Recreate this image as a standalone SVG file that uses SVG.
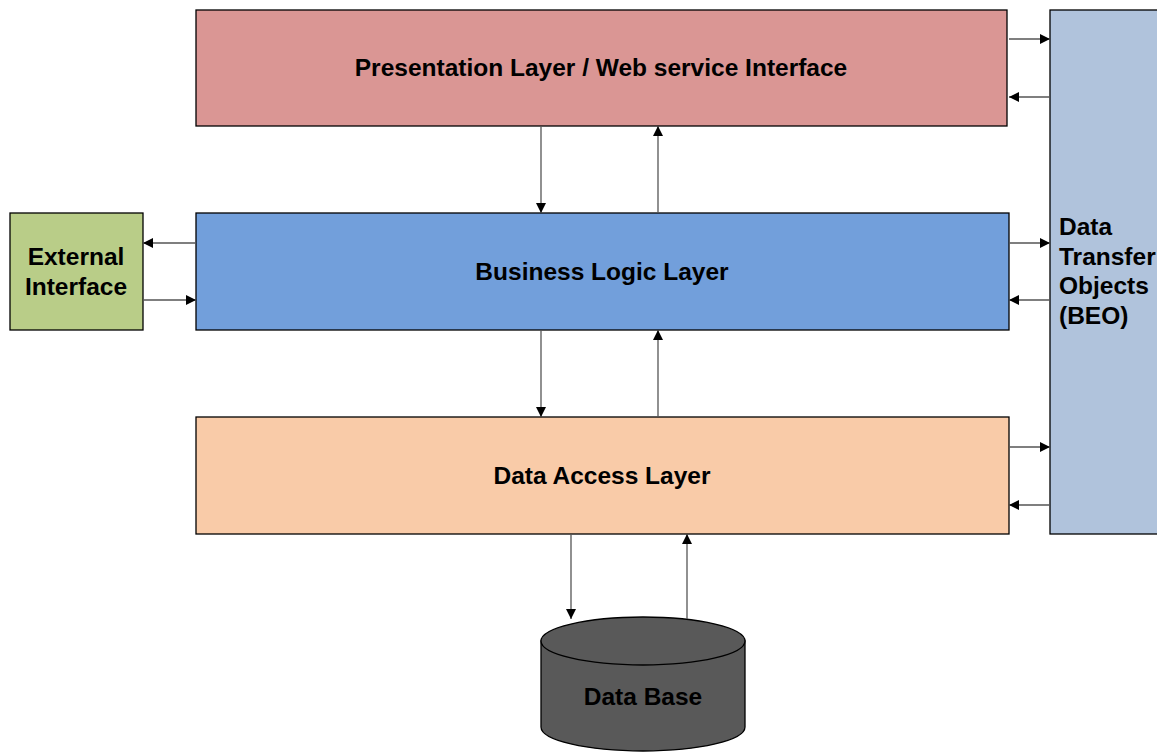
<svg xmlns="http://www.w3.org/2000/svg" width="1157" height="755" viewBox="0 0 1157 755">
<defs>
<marker id="ah" viewBox="0 0 10 10" refX="10" refY="5" markerWidth="10" markerHeight="10" markerUnits="userSpaceOnUse" orient="auto">
<path d="M0,0 L10,5 L0,10 Z" fill="#000"/>
</marker>
</defs>
<style>
.box{stroke:#000;stroke-width:1.3}
.t{font-family:"Liberation Sans",Arial,sans-serif;font-weight:bold;font-size:24.5px;fill:#000}
.c{text-anchor:middle}
.conn line{stroke:#555;stroke-width:1.3;marker-end:url(#ah)}
</style>
<rect width="1157" height="755" fill="#fff"/>
<g id="dto">
<rect class="box" x="1050" y="10" width="115" height="524" fill="#B0C3DC"/>
<text class="t" x="1059" y="235">Data</text>
<text class="t" x="1059" y="265">Transfer</text>
<text class="t" x="1059" y="294">Objects</text>
<text class="t" x="1059" y="324">(BEO)</text>
</g>
<g id="presentation">
<rect class="box" x="196" y="10" width="811" height="116" fill="#DA9694"/>
<text class="t c" x="601" y="76">Presentation Layer / Web service Interface</text>
</g>
<g id="business">
<rect class="box" x="196" y="213" width="813" height="117" fill="#729FDB"/>
<text class="t c" x="602" y="280">Business Logic Layer</text>
</g>
<g id="dataaccess">
<rect class="box" x="196" y="417" width="813" height="117" fill="#F9CBA8"/>
<text class="t c" x="602" y="484">Data Access Layer</text>
</g>
<g id="external">
<rect class="box" x="10" y="213" width="133" height="117" fill="#B9CD88"/>
<text class="t c" x="76" y="265">External</text>
<text class="t c" x="76" y="295">Interface</text>
</g>
<g id="database">
<path class="box" d="M541,641 L541,727 A102,24 0 0 0 745,727 L745,641 Z" fill="#595959"/>
<ellipse class="box" cx="643" cy="641" rx="102" ry="24" fill="#595959"/>
<text class="t c" x="643" y="705">Data Base</text>
</g>
<g class="conn">
<line x1="541" y1="126" x2="541" y2="213"/>
<line x1="658" y1="213" x2="658" y2="126"/>
<line x1="541" y1="330" x2="541" y2="417"/>
<line x1="658" y1="417" x2="658" y2="330"/>
<line x1="571" y1="534" x2="571" y2="619"/>
<line x1="687" y1="619" x2="687" y2="534"/>
<line x1="1009" y1="39" x2="1050" y2="39"/>
<line x1="1050" y1="97" x2="1009" y2="97"/>
<line x1="1009" y1="243" x2="1050" y2="243"/>
<line x1="1050" y1="300" x2="1009" y2="300"/>
<line x1="1009" y1="447" x2="1050" y2="447"/>
<line x1="1050" y1="505" x2="1009" y2="505"/>
<line x1="196" y1="243" x2="143" y2="243"/>
<line x1="143" y1="300" x2="196" y2="300"/>
</g>
</svg>
